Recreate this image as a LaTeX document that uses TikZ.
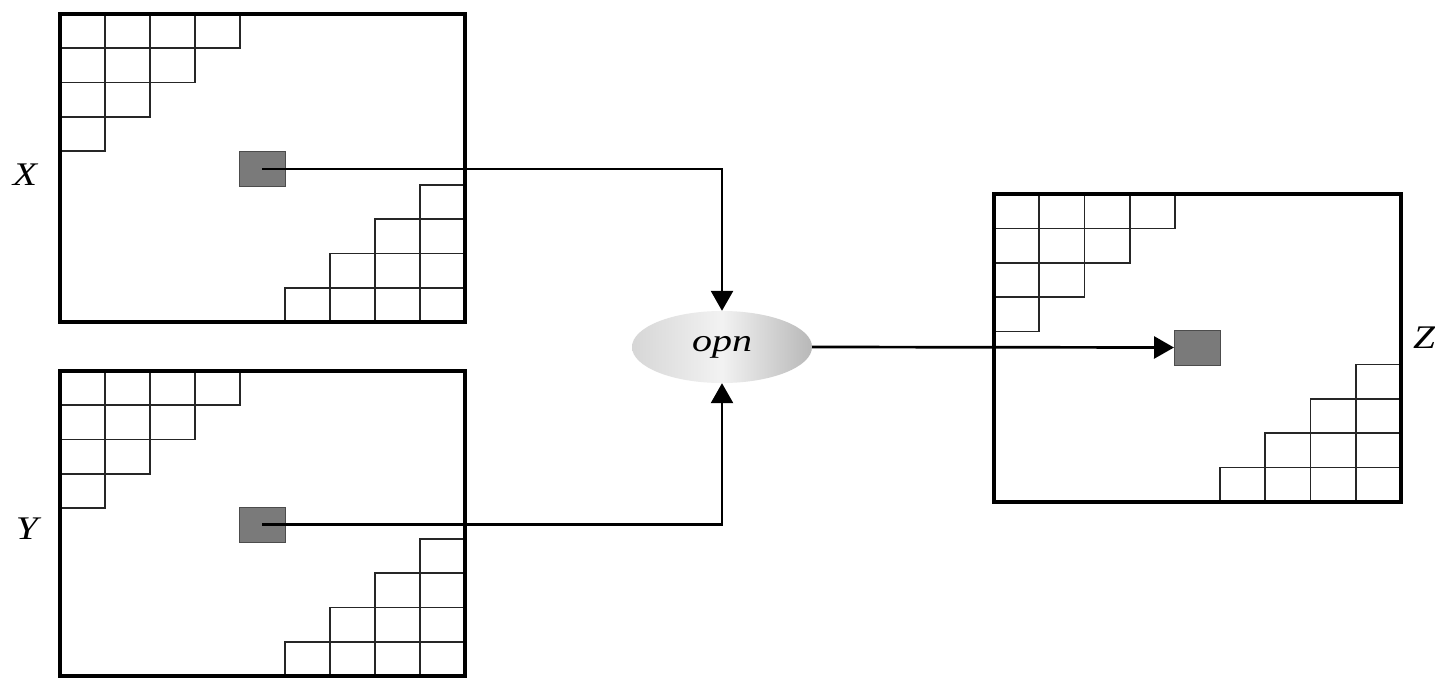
\documentclass[tikz,border=0pt]{standalone}
\usepackage{fontspec}
\setmainfont{Liberation Serif}
\usetikzlibrary{shapes.geometric,arrows.meta}
\newcommand\mystairs[6]{%
  \foreach \i in {0,...,3}{\foreach \j in {0,...,3}{%
    \pgfmathtruncatemacro\s{\i+\j}%
    \ifnum\s<4
      \draw[cell] ({#1+\j*#5},{#2+\i*#6}) rectangle ++(#5,#6);
      \draw[cell] ({#3-(\j+1)*#5},{#4-(\i+1)*#6}) rectangle ++(#5,#6);
    \fi}}}
\begin{document}
\begin{tikzpicture}[x=1pt,y=-1pt,
  frame/.style={draw, line width=4pt, inner sep=0pt, fill=none},
  cell/.style={line width=1.7pt, draw=black!85},
  pix/.style={draw=black!70, fill=black!52, line width=1pt, minimum width=46pt, minimum height=35pt, inner sep=0pt},
  conn/.style={line width=2.7pt, -{Triangle[length=20pt,width=22pt]}},
  lbl/.style={font=\fontsize{33}{33}\selectfont\itshape, inner sep=0pt},
  op/.style={ellipse, minimum width=180pt, minimum height=72pt, inner sep=0pt,
    left color=black!16, right color=black!28, middle color=black!5, draw=none}
]
\useasboundingbox[fill=white] (0,0) rectangle (1435,678);

% grids
\mystairs{60}{14}{465}{322}{45}{34.3}
\mystairs{60}{371}{465}{676}{45}{34.3}
\mystairs{994}{194}{1401}{502}{45.3}{34.4}

% frames
\node[frame, minimum width=405pt, minimum height=308pt] (bx) at (262.5,168) {};
\node[frame, minimum width=405pt, minimum height=305pt] (by) at (262.5,523.5) {};
\node[frame, minimum width=407pt, minimum height=308pt] (bz) at (1197.5,348) {};

% highlighted pixels
\node[pix] (gx) at (262,169) {};
\node[pix] (gy) at (262,524.5) {};
\node[pix] (gz) at (1197.5,347.5) {};

% operator
\node[op] (opn) at (722,347) {\fontsize{32}{32}\selectfont\itshape\scalebox{1.25}[1]{opn}};

% connectors
\draw[conn] (gx.center) -| (opn.north);
\draw[conn] (gy.center) -| (opn.south);
\draw[conn] (opn.east) -- (gz.west);

% labels
\node[lbl] (lx) at (25,175) {\scalebox{1.2}[1]{X}};
\node[lbl] (ly) at (27,529) {\scalebox{1.2}[1]{Y}};
\node[lbl, anchor=west] (lz) at (1413,338) {\scalebox{1.2}[1]{Z}};
\end{tikzpicture}
\end{document}
